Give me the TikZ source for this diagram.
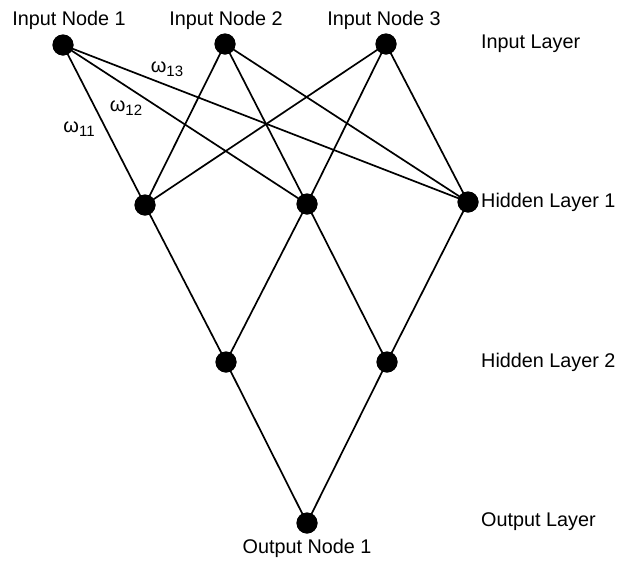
\documentclass[tikz,border=0pt]{standalone}
\usepackage{fontspec}
\setmainfont{Liberation Sans}
\newcommand{\wsub}[1]{\raisebox{-3.5pt}{\fontsize{15}{17}\selectfont #1}}
\begin{document}
\begin{tikzpicture}[x=1pt,y=-1pt,
  neuron/.style={circle,fill=black,inner sep=0pt,minimum size=21pt},
  link/.style={line width=1.7pt},
  lbl/.style={font=\fontsize{19.8}{22}\selectfont,inner sep=0pt},
  wlbl/.style={font=\fontsize{20}{22}\selectfont,inner sep=0pt}]
\useasboundingbox (0,0) rectangle (624,563);
% layer of nodes
\node[neuron] (i1) at (63,45) {};
\node[neuron] (i2) at (225,44) {};
\node[neuron] (i3) at (386,44) {};
\node[neuron] (h1) at (145,205) {};
\node[neuron] (h2) at (307,204) {};
\node[neuron] (h3) at (468,202) {};
\node[neuron] (g1) at (226,362) {};
\node[neuron] (g2) at (387,362) {};
\node[neuron] (o1) at (307,523) {};
% connections
\foreach \a in {i1,i2,i3}
  \foreach \b in {h1,h2,h3}
    \draw[link] (\a.center) -- (\b.center);
\draw[link] (h1.center) -- (g1.center);
\draw[link] (h2.center) -- (g1.center);
\draw[link] (h2.center) -- (g2.center);
\draw[link] (h3.center) -- (g2.center);
\draw[link] (g1.center) -- (o1.center);
\draw[link] (g2.center) -- (o1.center);
% redraw nodes over lines
\foreach \n in {i1,i2,i3,h1,h2,h3,g1,g2,o1}
  \fill (\n.center) circle (10.5pt);
% node labels
\node[lbl] (t1) at (69,20) {Input Node 1};
\node[lbl] (t2) at (226,20) {Input Node 2};
\node[lbl] (t3) at (384,20) {Input Node 3};
\node[lbl] (t4) at (307,548) {Output Node 1};
% layer labels
\node[lbl,anchor=west] (l1) at (481,44) {Input Layer};
\node[lbl,anchor=west] (l2) at (481,202) {Hidden Layer 1};
\node[lbl,anchor=west] (l3) at (481,362) {Hidden Layer 2};
\node[lbl,anchor=west] (l4) at (481,522) {Output Layer};
% weights
\node[wlbl] (w13) at (167,69) {ω\wsub{13}};
\node[wlbl] (w12) at (126,108) {ω\wsub{12}};
\node[wlbl] (w11) at (79,129) {ω\wsub{11}};
\end{tikzpicture}
\end{document}
